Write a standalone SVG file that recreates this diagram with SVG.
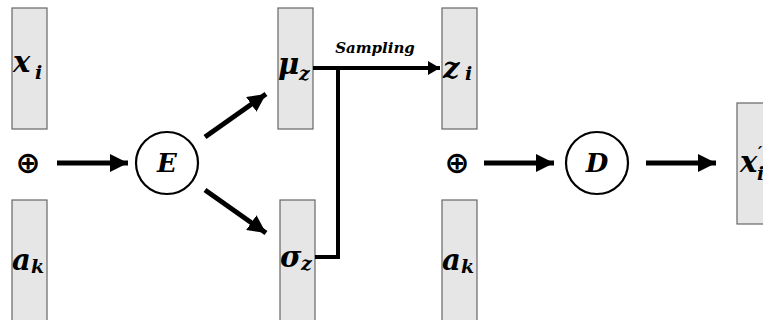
<svg xmlns="http://www.w3.org/2000/svg" width="763" height="320" viewBox="0 0 763 320">
  <defs>
    <style>
      .box { fill: #e6e6e6; stroke: #666666; stroke-width: 1.2; }
      .node { fill: #ffffff; stroke: #000000; stroke-width: 2.2; }
      .lbl { font-family: "DejaVu Serif", "Liberation Serif", serif; font-weight: bold; font-style: italic; fill: #000000; }
      .main { font-size: 29px; }
      .sub { font-size: 19px; }
      .op { font-family: "DejaVu Sans", sans-serif; font-weight: bold; font-size: 30px; fill: #000000; }
      .wire { fill: none; stroke: #000000; stroke-width: 5; }
      .thin { fill: none; stroke: #000000; stroke-width: 4; }
    </style>
    <marker id="head" markerUnits="userSpaceOnUse" markerWidth="20" markerHeight="18" refX="18" refY="9" orient="auto">
      <path d="M0,0 L18,9 L0,18 Z" fill="#000000"/>
    </marker>
    <marker id="headSmall" markerUnits="userSpaceOnUse" markerWidth="14" markerHeight="14" refX="12" refY="7" orient="auto">
      <path d="M0,0 L12,7 L0,14 Z" fill="#000000"/>
    </marker>
  </defs>
  <rect width="763" height="320" fill="#ffffff"/>

  <g id="x_i">
    <rect class="box" x="12" y="8" width="35" height="121"/>
    <text class="lbl main" x="13" y="72">x<tspan class="sub" x="35" y="79">i</tspan></text>
  </g>
  <g id="concat1">
    <text class="op" x="28" y="173" text-anchor="middle">⊕</text>
  </g>
  <g id="a_k1">
    <rect class="box" x="12" y="200" width="35" height="130"/>
    <text class="lbl main" x="12" y="270">a<tspan class="sub" x="31" y="273">k</tspan></text>
  </g>
  <g id="E">
    <circle class="node" cx="167" cy="163" r="31"/>
    <text class="lbl" font-size="26" x="167" y="172" text-anchor="middle">E</text>
  </g>
  <g id="mu_z">
    <rect class="box" x="278" y="8" width="35" height="121"/>
    <text class="lbl main" x="278" y="74">μ<tspan class="sub" x="299" y="80">z</tspan></text>
  </g>
  <g id="sigma_z">
    <rect class="box" x="280" y="200" width="35" height="130"/>
    <text class="lbl main" x="280" y="267">σ<tspan class="sub" x="301" y="270">z</tspan></text>
  </g>
  <g id="z_i">
    <rect class="box" x="442" y="8" width="35" height="121"/>
    <text class="lbl main" x="443" y="78">z<tspan class="sub" x="465" y="80">i</tspan></text>
  </g>
  <g id="concat2">
    <text class="op" x="457" y="173" text-anchor="middle">⊕</text>
  </g>
  <g id="a_k2">
    <rect class="box" x="442" y="200" width="35" height="130"/>
    <text class="lbl main" x="442" y="270">a<tspan class="sub" x="461" y="273">k</tspan></text>
  </g>
  <g id="D">
    <circle class="node" cx="597" cy="163" r="31"/>
    <text class="lbl" font-size="26" x="597" y="172" text-anchor="middle">D</text>
  </g>
  <g id="x_prime_i">
    <rect class="box" x="737" y="103" width="35" height="121"/>
    <text class="lbl main" x="740" y="172">x<tspan font-size="16" x="758" y="158">′</tspan><tspan class="sub" x="757" y="180">i</tspan></text>
  </g>

  <g id="connectors">
    <line class="wire" x1="57" y1="163" x2="128" y2="163" marker-end="url(#head)"/>
    <line class="wire" x1="205" y1="137" x2="266" y2="94" marker-end="url(#head)"/>
    <line class="wire" x1="205" y1="190" x2="266" y2="233" marker-end="url(#head)"/>
    <polyline class="thin" points="313,68 440,68" marker-end="url(#headSmall)"/>
    <polyline class="thin" points="315,257 338,257 338,68"/>
    <line class="wire" x1="484" y1="163" x2="554" y2="163" marker-end="url(#head)"/>
    <line class="wire" x1="646" y1="163" x2="716" y2="163" marker-end="url(#head)"/>
    <text class="lbl" font-size="15" x="375" y="53" text-anchor="middle">Sampling</text>
  </g>
</svg>
